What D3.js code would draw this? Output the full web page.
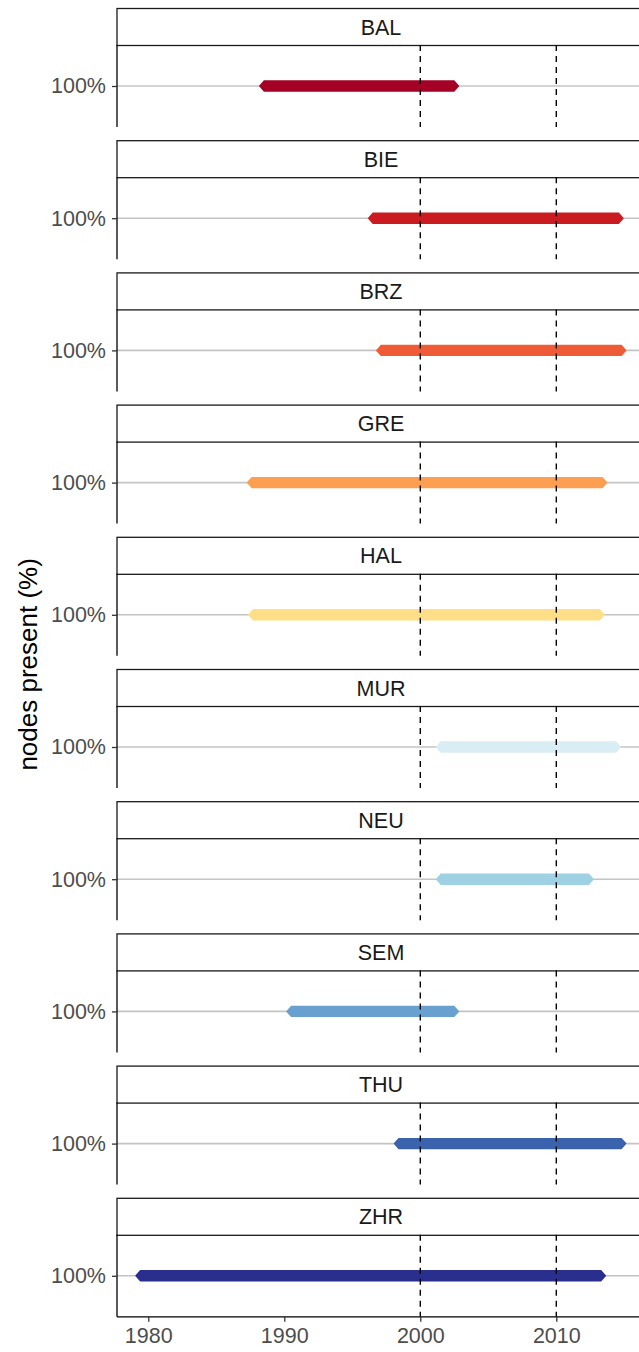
<!DOCTYPE html>
<html>
<head>
<meta charset="utf-8">
<script src="https://cdn.jsdelivr.net/npm/d3@7"></script>
<style>
  html, body { margin: 0; padding: 0; background: #fff; }
  svg { display: block; font-family: "Liberation Sans", Arial, sans-serif; }
</style>
</head>
<body>
<div id="chart"></div>
<script>
(() => {
const width = 639, height = 1352;

// data: first and last year each site is present
const sites = ["BAL", "BIE", "BRZ", "GRE", "HAL", "MUR", "NEU", "SEM", "THU", "ZHR"];
const startYears = [1988.5, 1996.5, 1997.1, 1987.6, 1987.7, 2001.5, 2001.5, 1990.5, 1998.4, 1979.4];
const endYears = [2002.5, 2014.6, 2014.8, 2013.4, 2013.2, 2014.4, 2012.4, 2002.5, 2014.8, 2013.3];
const presence = [1, 1, 1, 1, 1, 1, 1, 1, 1, 1];
const siteColors = ["#a50026", "#ca1b21", "#f05b37", "#fd9e50", "#fede86",
                    "#d8edf4", "#9ed1e4", "#68a1cf", "#3b62ad", "#2a2e8c"];
const refYears = [2000, 2010];
const xTicks = [1980, 1990, 2000, 2010];

const left = 117, top = 8;
const stripH = 37, panelH = 82, gap = 13.2;
const step = stripH + panelH + gap;
const tickFont = 21.5;

const svg = d3.select("#chart").append("svg")
    .attr("width", width).attr("height", height);

const x = d3.scaleLinear().domain([1977.7, 2016.08]).range([left, width]);
const y = d3.scaleLinear().domain([0.95, 1.05]).range([panelH, 0]);
const color = d3.scaleOrdinal().domain(sites).range(siteColors);

const rows = sites.map((s, i) => ({
    site: s, start: startYears[i], end: endYears[i], value: presence[i]
}));

const facet = svg.selectAll("g.facet")
    .data(rows)
    .join("g")
    .attr("class", "facet")
    .attr("transform", (d, i) => `translate(0, ${top + i * step})`);

// strip
facet.append("rect")
    .attr("x", left).attr("y", 0.5)
    .attr("width", width - left + 5).attr("height", stripH)
    .attr("fill", "#fff").attr("stroke", "#1a1a1a").attr("stroke-width", 1.3);

facet.append("text")
    .attr("x", (left + width) / 2 + 3)
    .attr("y", stripH / 2 + 8)
    .attr("text-anchor", "middle")
    .attr("font-size", tickFont)
    .attr("fill", "#1a1a1a")
    .text(d => d.site);

const panel = facet.append("g")
    .attr("transform", `translate(0, ${stripH})`);

// horizontal grid line at 100%
panel.append("line")
    .attr("x1", left).attr("x2", width)
    .attr("y1", d => y(d.value)).attr("y2", d => y(d.value))
    .attr("stroke", "#c4c4c4").attr("stroke-width", 1.6);

// presence bar, drawn as a stretched point
const half = 5.7, tip = 5;
panel.append("path")
    .attr("fill", d => color(d.site))
    .attr("d", d => {
        const x0 = x(d.start), x1 = x(d.end), yy = y(d.value);
        return `M${x0 - tip},${yy}L${x0},${yy - half}L${x1},${yy - half}` +
               `L${x1 + tip},${yy}L${x1},${yy + half}L${x0},${yy + half}Z`;
    });

// reference years
panel.selectAll("line.ref")
    .data(refYears)
    .join("line")
    .attr("class", "ref")
    .attr("x1", d => x(d)).attr("x2", d => x(d))
    .attr("y1", 0).attr("y2", panelH)
    .attr("stroke", "#000").attr("stroke-width", 1.4)
    .attr("stroke-dasharray", "6,5");

// left axis
panel.each(function () {
    const g = d3.select(this).append("g")
        .attr("transform", `translate(${left}, 0)`)
        .call(d3.axisLeft(y).tickValues([1]).tickFormat(d3.format(".0%"))
            .tickSize(5).tickPadding(6));
    g.select(".domain").attr("d", `M0,0V${panelH}`)
        .attr("stroke", "#000").attr("stroke-width", 1.3);
    g.selectAll(".tick line").attr("stroke", "#333").attr("stroke-width", 1.3);
    g.selectAll(".tick text")
        .attr("font-size", tickFont).attr("fill", "#4d4d4d")
        .attr("font-family", "Liberation Sans, Arial, sans-serif");
});

// bottom axis on last panel
const bottomY = top + (sites.length - 1) * step + stripH + panelH;
const xAxis = svg.append("g")
    .attr("transform", `translate(0, ${bottomY})`)
    .call(d3.axisBottom(x).tickValues(xTicks).tickFormat(d3.format("d"))
        .tickSize(5).tickPadding(6));
xAxis.select(".domain").attr("d", `M${left},0H${width}`)
    .attr("stroke", "#000").attr("stroke-width", 1.3);
xAxis.selectAll(".tick line").attr("stroke", "#333").attr("stroke-width", 1.3);
xAxis.selectAll(".tick text")
    .attr("font-size", tickFont).attr("fill", "#4d4d4d")
    .attr("font-family", "Liberation Sans, Arial, sans-serif");

// y title
svg.append("text")
    .attr("transform", `translate(37, ${(top + bottomY) / 2 + 2}) rotate(-90)`)
    .attr("text-anchor", "middle")
    .attr("font-size", 26)
    .attr("fill", "#000")
    .text("nodes present (%)");
})();
</script>
</body>
</html>
